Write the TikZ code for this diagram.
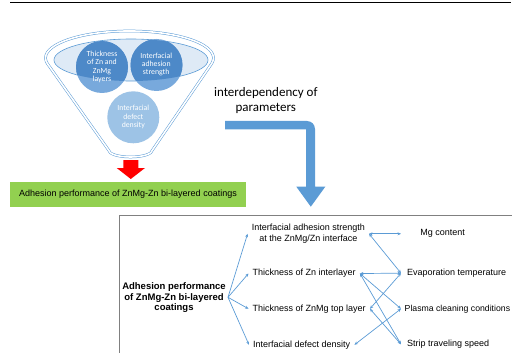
\documentclass[tikz,border=0pt]{standalone}
\usepackage{fontspec}
\setmainfont{Liberation Sans}
\newfontfamily\calibri{Carlito}
\usetikzlibrary{arrows.meta,calc}

\definecolor{linkblue}{HTML}{5B9BD5}
\definecolor{rimfill}{HTML}{DEEAF6}
\definecolor{cdark}{HTML}{4D89C8}
\definecolor{clight}{HTML}{78A9DC}
\definecolor{cpale}{HTML}{9DC3E6}
\definecolor{leafgreen}{HTML}{92D050}
\definecolor{framegray}{HTML}{808080}

\tikzset{
  funnelline/.style={draw=linkblue, double=white, double distance=1.6pt, line width=0.5pt},
  disc/.style={circle, minimum size=52pt, inner sep=0pt, draw=none},
  disctext/.style={font=\calibri\fontsize{7.8}{8.3}\selectfont, text=white, align=center, inner sep=0pt},
  midtext/.style={font=\fontsize{9}{10.7}\selectfont, align=center, inner xsep=4pt, inner ysep=1pt},
  righttext/.style={font=\fontsize{9}{10.7}\selectfont, anchor=west, inner xsep=6pt, inner ysep=1pt},
  tipA/.tip={Stealth[length=3.5pt,width=3pt]},
  fanlink/.style={draw=linkblue, line width=0.7pt, -tipA},
  duallink/.style={draw=linkblue, line width=0.7pt, tipA-tipA},
}

\begin{document}
\begin{tikzpicture}[x=1pt,y=1pt,yscale=-1]
\useasboundingbox (0,0) rectangle (512,353);
\clip (0,0) rectangle (512,353);

% rule across the top
\draw[line width=0.9pt] (10,2.5) -- (511,2.5);

% funnel body
\path[funnelline, fill=white]
  (47.3,63.5) arc[start angle=168.2, end angle=371.8, x radius=84, y radius=27]
  -- (152.5,150) arc[start angle=0, end angle=180, x radius=22, y radius=7]
  -- cycle;
% funnel mouth
\draw[linkblue, fill=rimfill, line width=0.6pt] (131,60) ellipse [x radius=77, y radius=21];

% parameter discs
\node[disc, fill=clight] (c1) at (102,67) {};
\node[disc, fill=clight] (c2) at (156.5,65) {};
\node[disc, fill=cpale] (c3) at (133.3,117.3) {};
\begin{scope}
  \clip (131,60) ellipse [x radius=77, y radius=21];
  \fill[cdark] (c1.center) circle (26);
  \fill[cdark] (c2.center) circle (26);
\end{scope}
\node[disctext] (t1) at (102,66.8) {Thickness\\of Zn and\\ZnMg\\layers};
\node[disctext] (t2) at (156.2,64.5) {Interfacial\\adhesion\\strength};
\node[disctext] (t3) at (133.3,117.2) {Interfacial\\defect\\density};

% output of the funnel
\fill[red] (123.3,160) -- (138.3,160) -- (138.3,168) -- (145,168) -- (130.8,179)
  -- (116.7,168) -- (123.3,168) -- cycle;
\node[fill=leafgreen, minimum width=236pt, minimum height=25pt, inner sep=0pt,
  font=\fontsize{9}{10.7}\selectfont] (res) at (128,194.2)
  {Adhesion performance of ZnMg-Zn bi-layered coatings};

% bent arrow towards the parameter map
\node[font=\calibri\fontsize{13}{15}\selectfont, align=center, inner sep=0pt] (inter)
  at (265.8,100.5) {interdependency of\\parameters};
\fill[linkblue] (225,121) -- (307,121) arc[start angle=270, end angle=360, radius=8]
  -- (315,186.7) -- (325.3,186.7) -- (310.8,206.7) -- (296.3,186.7) -- (306,186.7)
  -- (306,129.3) -- (225,129.3) -- cycle;

% parameter map frame
\draw[framegray, line width=0.8pt] (119.3,215) rectangle (530,370);

% parameter map
\node[font=\bfseries\fontsize{9.5}{10.5}\selectfont, align=center, inner sep=0pt] (src)
  at (174,297.6) {Adhesion performance\\of ZnMg-Zn bi-layered\\coatings};
\coordinate (fan) at (228,297.3);

\node[midtext] (m1) at (308.3,233.8) {Interfacial adhesion strength\\at the ZnMg/Zn interface};
\node[midtext, anchor=west] (m2) at (248.5,273.5) {Thickness of Zn interlayer};
\node[midtext, anchor=west] (m3) at (248.5,308.8) {Thickness of ZnMg top layer};
\node[midtext, anchor=west] (m4) at (249,344.8) {Interfacial defect density};

\node[righttext, minimum width=83pt] (r1) at (401,233.8) {Mg content};
\node[righttext] (r2) at (401,273.2) {Evaporation temperature};
\node[righttext, inner xsep=3.5pt, font=\fontsize{8.7}{10.7}\selectfont] (r3) at (401,308.8) {Plasma cleaning conditions};
\node[righttext] (r4) at (401,344.3) {Strip traveling speed};

\draw[fanlink] (fan) -- (m1.west);
\draw[fanlink] (fan) -- (m2.west);
\draw[fanlink] (fan) -- (m3.west);
\draw[fanlink] (fan) -- (m4.west);

\draw[duallink] (m1.east) -- (r1.west);
\draw[duallink] (m1.east) -- (r2.west);
\draw[duallink] (m2.east) -- (r2.west);
\draw[duallink] (m2.east) -- (r3.west);
\draw[duallink] (m2.east) -- (r4.west);
\draw[duallink] (m3.east) -- (r2.west);
\draw[duallink] (m3.east) -- (r4.west);
\draw[duallink] (r3.west) -- (m4.east);
\end{tikzpicture}
\end{document}
